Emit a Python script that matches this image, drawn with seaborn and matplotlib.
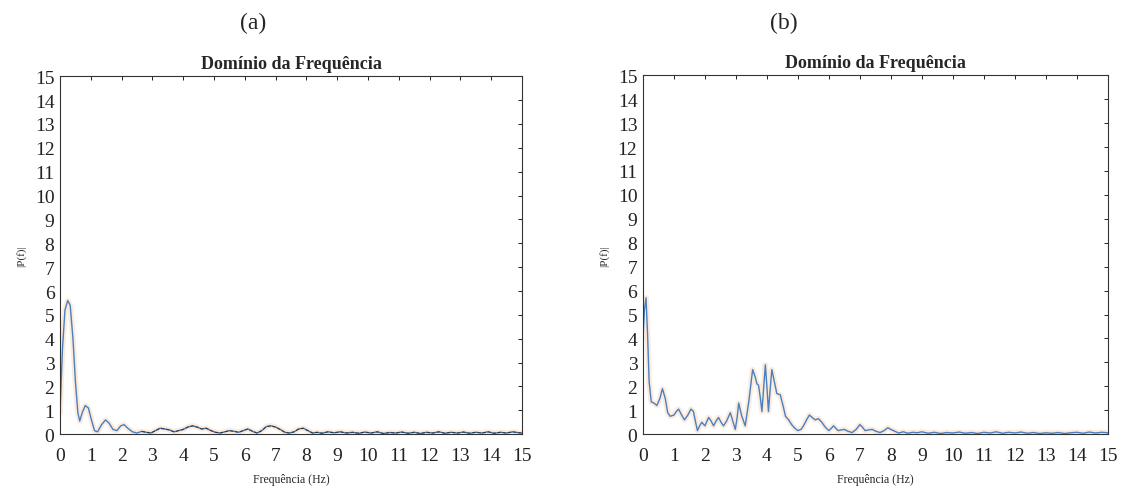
import pandas as pd
import seaborn as sns
import matplotlib.pyplot as plt

# panel (a)
freq_a = [0, 0.08, 0.16, 0.25, 0.33, 0.42, 0.5, 0.58, 0.64, 0.72,
          0.82, 0.92, 1.02, 1.12, 1.22, 1.35, 1.48, 1.6, 1.72, 1.85,
          1.97, 2.08, 2.2, 2.35, 2.5, 2.65, 2.8, 2.95, 3.1, 3.25,
          3.4, 3.55, 3.7, 3.85, 4.0, 4.15, 4.3, 4.45, 4.6, 4.75,
          4.9, 5.05, 5.2, 5.35, 5.5, 5.65, 5.8, 5.95, 6.1, 6.25,
          6.4, 6.55, 6.7, 6.85, 7.0, 7.15, 7.3, 7.45, 7.6, 7.75,
          7.9, 8.05, 8.2, 8.35, 8.5, 8.7, 8.9, 9.1, 9.3, 9.5,
          9.7, 9.9, 10.1, 10.3, 10.5, 10.7, 10.9, 11.1, 11.3, 11.5,
          11.7, 11.9, 12.1, 12.3, 12.5, 12.7, 12.9, 13.1, 13.3, 13.5,
          13.7, 13.9, 14.1, 14.3, 14.5, 14.7, 14.9, 15.0]
mag_a = [0.9, 3.6, 5.2, 5.6, 5.4, 4.0, 2.2, 0.9, 0.55, 0.9,
         1.2, 1.1, 0.6, 0.15, 0.1, 0.4, 0.6, 0.45, 0.2, 0.15,
         0.35, 0.4, 0.25, 0.1, 0.05, 0.12, 0.08, 0.05, 0.15, 0.25,
         0.22, 0.18, 0.1, 0.15, 0.2, 0.3, 0.35, 0.3, 0.22, 0.25,
         0.15, 0.08, 0.05, 0.1, 0.15, 0.12, 0.08, 0.15, 0.22, 0.12,
         0.05, 0.15, 0.32, 0.35, 0.3, 0.2, 0.08, 0.05, 0.1, 0.22,
         0.25, 0.15, 0.05, 0.08, 0.04, 0.1, 0.06, 0.1, 0.05, 0.08,
         0.04, 0.09, 0.05, 0.1, 0.03, 0.07, 0.05, 0.09, 0.04, 0.08,
         0.03, 0.08, 0.05, 0.1, 0.04, 0.08, 0.05, 0.09, 0.04, 0.08,
         0.05, 0.1, 0.04, 0.08, 0.05, 0.1, 0.06, 0.05]

# panel (b)
freq_b = [0, 0.05, 0.1, 0.15, 0.2, 0.27, 0.36, 0.45, 0.55, 0.63,
          0.72, 0.8, 0.88, 1.0, 1.08, 1.15, 1.25, 1.34, 1.45, 1.55,
          1.63, 1.7, 1.76, 1.83, 1.9, 2.0, 2.12, 2.2, 2.28, 2.36,
          2.44, 2.52, 2.6, 2.7, 2.82, 2.9, 2.98, 3.04, 3.09, 3.18,
          3.3, 3.42, 3.54, 3.62, 3.68, 3.73, 3.79, 3.84, 3.9, 3.95,
          4.0, 4.05, 4.1, 4.16, 4.24, 4.32, 4.43, 4.52, 4.6, 4.7,
          4.8, 4.9, 5.0, 5.1, 5.18, 5.28, 5.37, 5.46, 5.56, 5.66,
          5.77, 5.88, 6.0, 6.08, 6.15, 6.22, 6.3, 6.4, 6.5, 6.62,
          6.75, 6.88, 7.0, 7.08, 7.17, 7.28, 7.4, 7.52, 7.65, 7.78,
          7.9, 8.0, 8.1, 8.25, 8.4, 8.55, 8.7, 8.85, 9.0, 9.2,
          9.4, 9.6, 9.8, 10.0, 10.2, 10.4, 10.6, 10.8, 11.0, 11.2,
          11.4, 11.6, 11.8, 12.0, 12.2, 12.4, 12.6, 12.8, 13.0, 13.2,
          13.4, 13.6, 13.8, 14.0, 14.2, 14.4, 14.6, 14.8, 15.0]
mag_b = [4.0, 5.2, 5.7, 4.2, 2.2, 1.35, 1.3, 1.2, 1.5, 1.9,
         1.5, 0.9, 0.75, 0.8, 0.95, 1.05, 0.8, 0.6, 0.8, 1.05,
         0.95, 0.5, 0.15, 0.35, 0.5, 0.35, 0.7, 0.55, 0.35, 0.55,
         0.7, 0.5, 0.35, 0.55, 0.9, 0.55, 0.2, 0.7, 1.3, 0.8,
         0.35, 1.4, 2.7, 2.4, 2.1, 2.05, 1.5, 0.95, 2.0, 2.9,
         2.0, 0.95, 1.8, 2.7, 2.2, 1.7, 1.65, 1.2, 0.75, 0.6,
         0.4, 0.25, 0.15, 0.2, 0.35, 0.6, 0.8, 0.7, 0.6, 0.65,
         0.5, 0.3, 0.15, 0.25, 0.35, 0.25, 0.15, 0.18, 0.2, 0.12,
         0.07, 0.2, 0.4, 0.3, 0.15, 0.18, 0.2, 0.12, 0.07, 0.15,
         0.27, 0.2, 0.14, 0.05, 0.1, 0.04, 0.08, 0.06, 0.1, 0.04,
         0.08, 0.03, 0.07, 0.05, 0.09, 0.04, 0.07, 0.03, 0.08, 0.05,
         0.1, 0.04, 0.08, 0.05, 0.09, 0.04, 0.07, 0.03, 0.06, 0.04,
         0.07, 0.03, 0.06, 0.08, 0.04, 0.09, 0.05, 0.08, 0.06]

panel_labels = ['(a)', '(b)']
title = 'Domínio da Frequência'
xlabel = 'Frequência (Hz)'
ylabel = '|P(f)|'
ticks = list(range(0, 16))

sns.set_style('white')
plt.rcParams['font.family'] = ['Liberation Serif', 'DejaVu Serif']

fig = plt.figure(figsize=(11.22, 4.89), dpi=100)
ax_a = fig.add_axes([0.0535, 0.110, 0.4117, 0.732])
ax_b = fig.add_axes([0.5730, 0.110, 0.4144, 0.734])

df_a = pd.DataFrame({'f': freq_a, 'P': mag_a})
df_b = pd.DataFrame({'f': freq_b, 'P': mag_b})

for ax, df, lab_x, lab in [(ax_a, df_a, 0.2255, panel_labels[0]),
                           (ax_b, df_b, 0.699, panel_labels[1])]:
    # faint halo underneath, then the spectrum itself
    sns.lineplot(data=df, x='f', y='P', ax=ax, color='#f6c79b', lw=4,
                 alpha=0.35, estimator=None, sort=False)
    sns.lineplot(data=df, x='f', y='P', ax=ax, color='#4a7fc1', lw=1.0,
                 estimator=None, sort=False)
    ax.set_xlim(0, 15)
    ax.set_ylim(0, 15)
    ax.set_xticks(ticks)
    ax.set_yticks(ticks)
    ax.tick_params(direction='in', length=3, width=0.7, top=True, right=True,
                   labelsize=14, colors='#222222')
    ax.tick_params(axis='x', pad=9)
    ax.tick_params(axis='y', pad=4)
    for s in ax.spines.values():
        s.set_color('#333333')
        s.set_linewidth(0.8)
    ax.set_title(title, fontsize=13, fontweight='bold', pad=6)
    fig.text(lab_x, 0.953, lab, fontsize=17, ha='center', va='center')

# darker trace on the tail of (a)
tail = df_a[df_a['f'] >= 2.6]
sns.lineplot(data=tail, x='f', y='P', ax=ax_a, color='#333333', lw=0.7,
             ls='--', estimator=None, sort=False)

for ax in (ax_a, ax_b):
    ax.set_xlabel(xlabel, fontsize=8.5, labelpad=7)
    ax.set_ylabel(ylabel, fontsize=8, labelpad=6)

fig.savefig('out.png', dpi=100)
